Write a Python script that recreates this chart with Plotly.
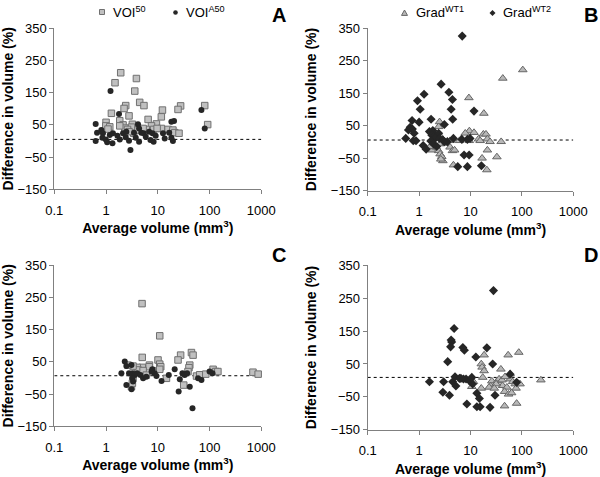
import plotly.graph_objects as go

# ---------------- data ----------------
# Panel A: VOI50 (grey squares), VOIA50 (black circles)
a_voi50_x = [1.92, 1.49, 3.86, 3.59, 4.47, 5.4, 2.4, 2.23, 1.27, 2.78, 1.84, 6.5, 12.3, 11.7, 27.6, 24.6,
             9.4, 1.0, 0.99, 1.18, 1.09, 2.13, 3.23, 3.1, 2.3, 2.6, 3.43, 2.78, 4.15, 7.55, 6.0, 8.3,
             11.7, 15.8, 19.6, 21.3, 25.7, 9.7, 5.2, 1.84, 80.7, 92.0]
a_voi50_y = [212, 181, 194, 155, 120, 110, 110, 101, 86, 78, 63, 67, 96, 75, 109, 98,
             53, 58, 47, 44, 37, 50, 52, 43, 40, 36, 24, 29, 34, 47, 36, 36,
             39, 36, 34, 26, 24, 39, 39, 47, 110, 51]
a_voia50_x = [1.22, 1.78, 4.15, 0.63, 20.6, 18.3, 0.67, 0.63, 0.81, 0.87, 0.85, 0.99, 1.05, 1.33, 1.18,
              1.36, 1.66, 1.84, 2.13, 2.4, 2.78, 2.96, 3.47, 3.75, 4.35, 5.35, 5.85, 6.8, 7.2, 7.9,
              8.3, 9.1, 4.35, 12.6, 13.6, 16.6, 19.6, 18.3, 2.47, 4.8, 69.6, 80.7]
a_voia50_y = [155, 84, 52, 53, 62, 60, 26, 0, 34, 24, 10, 5, -4, -7, 19,
              24, 16, 5, 24, 12, 1, -28, 26, 10, -2, 24, 13, 29, 3, 24,
              -2, 16, 39, 24, 8, 26, 0, 10, 29, 26, 96, 39]

# Panel B: GradWT1 (grey triangles), GradWT2 (black diamonds)
b_wt1_x = [104, 42.5, 9.3, 18.2, 2.5, 2.4, 9.5, 11.7, 7.9, 17.8, 20.0, 6.6, 6.1, 14.3, 15.4, 21.3,
           24.0, 39.5, 9.5, 4.0, 2.5, 2.56, 3.35, 1.59, 1.77, 2.14, 2.4, 2.56, 2.76, 2.9, 2.65,
           4.0, 4.45, 4.65, 21.3, 16.8, 32.6, 20.8, 1.85, 1.64, 4.9]
b_wt1_y = [222, 196, 136, 88, 62, 47, 34, 29, 27, 24, 24, 9, 4, 9, 4, 9,
           1, 1, 4, 4, 21, -6, -4, -22, -25, -16, -27, -37, -45, -58, -53,
           -16, -27, -71, -25, -50, -46, -86, -6, -14, -25]
b_wt2_x = [6.9, 2.68, 1.25, 0.93, 3.8, 4.45, 1.05, 4.2, 4.5, 11.7, 0.73, 1.0, 1.71, 3.1, 0.67,
           0.62, 0.74, 0.8, 0.55, 0.77, 0.87, 1.2, 1.59, 1.85, 1.77, 2.0, 2.4, 2.05, 2.5, 2.9,
           1.69, 1.9, 2.2, 3.1, 3.55, 4.65, 6.8, 8.7, 9.8, 7.5, 9.4, 5.65, 8.7, 16.3, 1.37]
b_wt2_y = [326, 178, 147, 127, 153, 131, 101, 101, 70, 95, 66, 61, 70, 54, 45,
           37, 40, 27, 11, 4, 4, -11, 32, 35, 21, 21, 27, 11, 11, 6,
           3, -6, -14, 1, 1, 11, 8, 8, 11, -40, -40, -76, -76, -73, -22]

# Panel C: VOI50 (grey squares), VOIA50 (black circles)
c_voi50_x = [4.96, 10.9, 5.0, 27.6, 24.6, 44.7, 48.0, 41.5, 40.0, 38.3, 31.7, 10.1, 10.9, 11.4, 10.9,
             6.9, 6.8, 5.0, 4.0, 4.15, 5.2, 3.32, 2.66, 6.0, 14.7, 8.1, 56, 64.6, 84.6, 117,
             132, 145, 690, 870, 3.32, 3.1, 3.23]
c_voi50_y = [231, 131, 64, 71, 56, 79, 71, 40, 32, 20, -22, 56, 43, 35, 27,
             40, 35, 33, 33, 25, 23, 37, 40, 9, -1, 22, 6, 10, 12, 27,
             20, 20, 18, 12, -1, -27, -16]
c_voia50_x = [2.3, 2.47, 3.1, 1.98, 2.78, 3.23, 3.6, 4.0, 3.23, 3.32, 2.47, 3.1, 4.6, 5.2, 6.0,
              7.9, 8.7, 9.4, 11.8, 16.3, 21.2, 25.3, 26.6, 29.9, 33.1, 36.9, 41.5, 46.8, 60, 69.7,
              100, 114, 7.6]
c_voia50_y = [51, 37, 40, 15, 15, 15, 9, 15, -1, -11, -22, -35, 9, -1, 4,
              27, 15, 6, -9, 9, 27, -42, -4, 15, 9, 15, -27, -94, -1, -6,
              20, 15, 20]

# Panel D: GradWT1 (grey triangles), GradWT2 (black diamonds)
d_wt1_x = [18.4, 54, 87, 16.2, 16.8, 18.4, 39, 17.3, 59, 59, 234, 11.4, 26, 33, 36, 42, 24.8,
           23, 16.2, 10.6, 51, 66, 74, 92, 77, 46, 55, 31.5, 41, 47, 46, 79, 29, 63]
d_wt1_y = [77, 77, 85, 50, 40, 29, 34, 9, 19, 4, 1, -4, -2, -2, 4, -16, -17,
           -21, -24, -19, -21, -4, -11, -11, -24, -34, -42, -11, 1, 11, -78, -70, -24, -38]
d_wt2_x = [28, 4.8, 4.2, 4.3, 4.1, 7.1, 7.6, 20.8, 12.7, 3.6, 27, 1.59, 3.0, 4.5, 5.0, 6.1,
           5.2, 7.3, 8.2, 9.5, 10.6, 11, 2.9, 3.9, 13.3, 14.9, 8.5, 13.3, 15.4, 24, 30,
           59, 79, 6.5]
d_wt2_y = [273, 158, 123, 117, 102, 100, 92, 99, 71, 57, 50, -4, -4, -4, 11, 6,
           -17, 4, 4, -1, 9, -11, -36, -45, -39, -55, -72, -80, -80, -82, -45,
           19, -6, 6]

# reference (mean difference) lines
ref_x = [0.1, 1000]
ref_a, ref_b, ref_c, ref_d = 5, 6, 7, 9

x_tickvals = [0.1, 1, 10, 100, 1000]
x_ticktext = ["0.1", "1", "10", "100", "1000"]
y_tickvals = [-150, -50, 50, 150, 250, 350]

# ---------------- styles ----------------
FONT = "Liberation Sans, Arial, sans-serif"
SQ = dict(symbol="square", size=6.5, color="#c0c0c0", line=dict(color="#707070", width=1))
CI = dict(symbol="circle", size=6, color="#262626", line=dict(width=0))
TR = dict(symbol="triangle-up", size=7.5, color="#b8b8b8", line=dict(color="#666666", width=1))
DI = dict(symbol="diamond", size=7, color="#262626", line=dict(width=0))

fig = go.Figure()

panels = [
    ("x", "y", [(a_voi50_x, a_voi50_y, SQ), (a_voia50_x, a_voia50_y, CI)], ref_a),
    ("x2", "y2", [(b_wt1_x, b_wt1_y, TR), (b_wt2_x, b_wt2_y, DI)], ref_b),
    ("x3", "y3", [(c_voi50_x, c_voi50_y, SQ), (c_voia50_x, c_voia50_y, CI)], ref_c),
    ("x4", "y4", [(d_wt1_x, d_wt1_y, TR), (d_wt2_x, d_wt2_y, DI)], ref_d),
]
for xa, ya, series, ref in panels:
    fig.add_trace(go.Scatter(x=ref_x, y=[ref, ref], mode="lines", xaxis=xa, yaxis=ya,
                             line=dict(color="#000000", width=1, dash="dot"),
                             showlegend=False, hoverinfo="skip"))
    for sx, sy, mk in series:
        fig.add_trace(go.Scatter(x=sx, y=sy, mode="markers", xaxis=xa, yaxis=ya,
                                 marker=mk, showlegend=False, cliponaxis=False))

W, H = 600, 477
def fx(px):
    return px / W
def fy(py):
    return 1 - py / H

domains = {
    "": ([fx(54.3), fx(261.3)], [fy(189.3), fy(28.3)]),
    "2": ([fx(367.7), fx(573.3)], [fy(190.7), fy(28.3)]),
    "3": ([fx(54.3), fx(261.3)], [fy(426.3), fy(265.3)]),
    "4": ([fx(367.7), fx(573.3)], [fy(429.7), fy(265.3)]),
}

layout = dict(
    template="none",
    width=W, height=H,
    margin=dict(l=0, r=0, t=0, b=0, pad=0, autoexpand=False),
    paper_bgcolor="white", plot_bgcolor="white",
    font=dict(family=FONT, size=13, color="#000000"),
    showlegend=False,
)
for k, (dx, dy) in domains.items():
    layout["xaxis" + k] = dict(
        domain=dx, anchor="y" + k, type="log", range=[-1, 3], automargin=False,
        tickvals=x_tickvals, ticktext=x_ticktext,
        showline=True, linecolor="#808080", linewidth=1,
        ticks="outside", ticklen=4, tickcolor="#808080", ticklabelstandoff=5,
        showgrid=False, zeroline=False,
        tickfont=dict(size=13, family=FONT, color="#000000"),
        title=dict(text="<b>Average volume (mm<sup>3</sup>)</b>",
                   font=dict(size=14, family=FONT, color="#000000"), standoff=6),
    )
    layout["yaxis" + k] = dict(
        domain=dy, anchor="x" + k, range=[-150, 350], automargin=False,
        tickvals=y_tickvals,
        showline=True, linecolor="#808080", linewidth=1,
        ticks="outside", ticklen=4, tickcolor="#808080",
        showgrid=False, zeroline=False,
        tickfont=dict(size=13, family=FONT, color="#000000"),
        title=dict(text="<b>Difference in volume (%)</b>",
                   font=dict(size=14, family=FONT, color="#000000"), standoff=10),
    )
fig.update_layout(**layout)

# panel letters
for letter, px, py in [("A", 279, 15), ("B", 591, 15), ("C", 279, 255), ("D", 591, 255)]:
    fig.add_annotation(x=fx(px), y=fy(py), xref="paper", yref="paper", text=f"<b>{letter}</b>",
                       showarrow=False, font=dict(size=20, family=FONT, color="#000000"),
                       xanchor="center", yanchor="middle")

# legend entries (markers as shapes + text)
def rect(cx, cy, s, fill, line):
    fig.add_shape(type="rect", xref="paper", yref="paper",
                  x0=fx(cx - s), x1=fx(cx + s), y0=fy(cy + s), y1=fy(cy - s),
                  fillcolor=fill, line=dict(color=line, width=1))

def circ(cx, cy, s, fill):
    fig.add_shape(type="circle", xref="paper", yref="paper",
                  x0=fx(cx - s), x1=fx(cx + s), y0=fy(cy + s), y1=fy(cy - s),
                  fillcolor=fill, line=dict(color=fill, width=0))

def tri(cx, cy, s, fill, line):
    p = f"M {fx(cx - s)},{fy(cy + s*0.8)} L {fx(cx + s)},{fy(cy + s*0.8)} L {fx(cx)},{fy(cy - s)} Z"
    fig.add_shape(type="path", path=p, xref="paper", yref="paper",
                  fillcolor=fill, line=dict(color=line, width=1))

def dia(cx, cy, s, fill):
    p = f"M {fx(cx - s)},{fy(cy)} L {fx(cx)},{fy(cy - s)} L {fx(cx + s)},{fy(cy)} L {fx(cx)},{fy(cy + s)} Z"
    fig.add_shape(type="path", path=p, xref="paper", yref="paper",
                  fillcolor=fill, line=dict(color=fill, width=0))

rect(102, 12, 2.5, "#c0c0c0", "#707070")
circ(175.5, 12.5, 2.3, "#262626")
tri(404.5, 13, 3, "#b8b8b8", "#666666")
dia(492.5, 13, 3, "#262626")

for txt, px, py in [("VOI<sup>50</sup>", 111, 12), ("VOI<sup>A50</sup>", 184, 12),
                    ("Grad<sup>WT1</sup>", 414, 12), ("Grad<sup>WT2</sup>", 501, 12)]:
    fig.add_annotation(x=fx(px), y=fy(py), xref="paper", yref="paper", text=txt,
                       showarrow=False, font=dict(size=13, family=FONT, color="#000000"),
                       xanchor="left", yanchor="middle")

fig.write_html(
    "out.html",
    config={"displayModeBar": False},
    post_script=("document.body.style.margin='0';document.body.style.padding='0';"
                 "document.body.style.overflow='hidden';"
                 "document.documentElement.style.overflow='hidden';"),
)
